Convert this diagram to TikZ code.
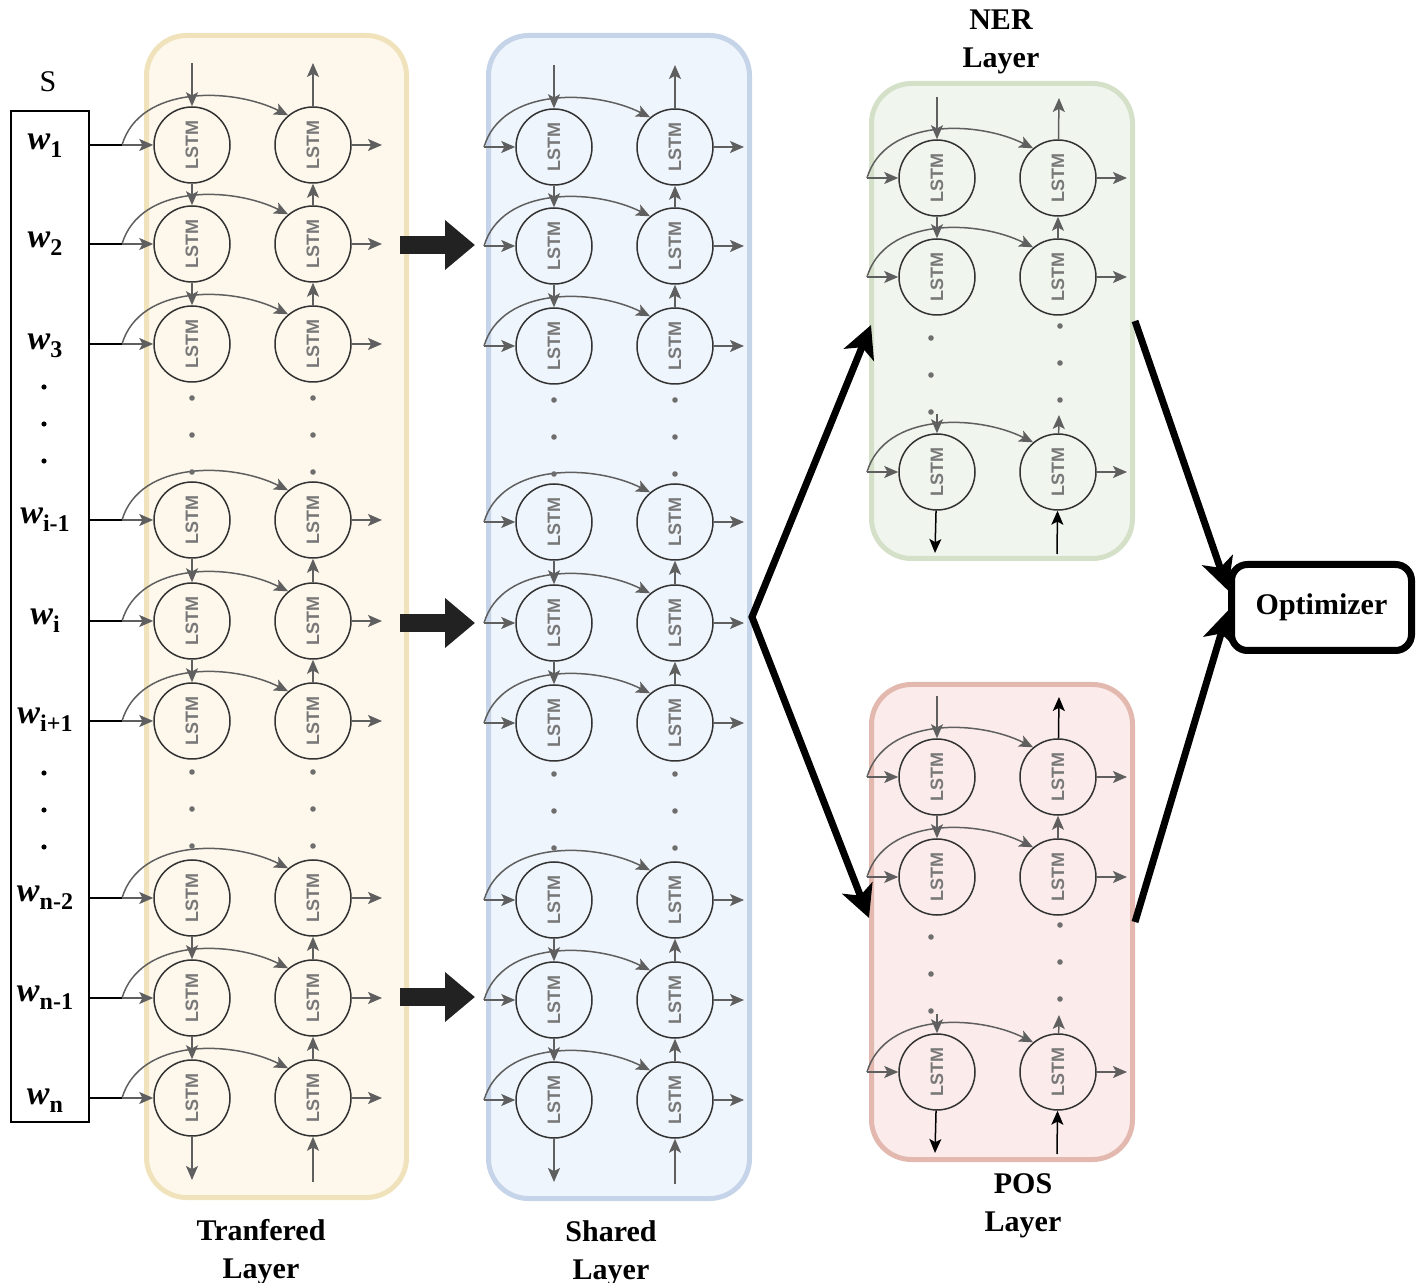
\documentclass[tikz,border=0pt]{standalone}
\usepackage{graphicx}
\usepackage{fontspec}
\setmainfont{Liberation Serif}
\newfontfamily\lstmfont{Liberation Sans}
\usetikzlibrary{arrows.meta}

\definecolor{tfill}{RGB}{254,248,236}
\definecolor{tline}{RGB}{240,226,186}
\definecolor{sfill}{RGB}{239,245,252}
\definecolor{sline}{RGB}{197,212,232}
\definecolor{nfill}{RGB}{240,245,238}
\definecolor{nline}{RGB}{212,225,200}
\definecolor{pfill}{RGB}{251,236,235}
\definecolor{pline}{RGB}{226,184,175}
\definecolor{arrgray}{RGB}{95,95,95}
\definecolor{lstmtext}{RGB}{120,120,120}
\definecolor{lstmline}{RGB}{51,51,51}
\definecolor{dotgray}{RGB}{110,110,110}
\definecolor{blockc}{RGB}{34,34,34}

\tikzset{
	lstm/.style={circle,draw=lstmline,line width=0.75pt,minimum size=38pt,inner sep=0pt,
		font=\lstmfont\bfseries\fontsize{9}{9}\selectfont,text=lstmtext},
	flow/.style={draw=arrgray,line width=0.75pt,-{Stealth[length=7pt,width=6pt,inset=1.6pt]}},
	blackflow/.style={draw=black,line width=0.75pt,-{Stealth[length=7pt,width=6pt,inset=1.6pt]}},
	layer/.style={rounded corners=20pt,line width=2.5pt,inner sep=0pt},
	block/.style={draw=blockc,line width=9pt,-{Triangle[length=15pt,width=24pt]}},
	big/.style={line width=3.5pt,{Stealth[length=16pt,width=16pt,inset=4pt]}-{Stealth[length=16pt,width=16pt,inset=4pt]}},
	bigone/.style={line width=3.5pt,-{Stealth[length=16pt,width=16pt,inset=4pt]}},
	optbox/.style={draw,line width=3.5pt,rounded corners=8pt,minimum width=90pt,minimum height=43pt,
		font=\bfseries\fontsize{15}{15}\selectfont},
	title/.style={font=\bfseries\fontsize{15}{19}\selectfont,align=center},
}

% one row of the bidirectional cell: prefix, x, y, index
\newcommand{\lstmrow}[4]{%
	\node[lstm] (#1a#4) at (#2,#3) {\rotatebox{90}{LSTM}};
	\node[lstm] (#1b#4) at (#2+121,#3) {\rotatebox{90}{LSTM}};
	\coordinate (#1i#4) at (#2-70,#3);
	\coordinate (#1o#4) at (#2+190,#3);
	\draw[flow] (#1i#4) -- (#1a#4);
	\draw[flow] (#1i#4) .. controls +(18,-60) and +(-56,-28) .. (#1b#4.130);
	\draw[flow] (#1b#4) -- (#1o#4);
}
\newcommand{\wsub}[1]{{\fontsize{17}{17}\selectfont\bfseries\itshape w}\raisebox{-4pt}{\fontsize{12}{12}\selectfont\bfseries #1}}

\begin{document}
\begin{tikzpicture}[x=0.5pt,y=-0.5pt]
	\useasboundingbox (0,0) rectangle (1421,1283);

	% layer backgrounds
	\node[layer,fill=tfill,draw=tline,minimum width=130pt,minimum height=581pt] (tbox) at (276.5,616.5) {};
	\node[layer,fill=sfill,draw=sline,minimum width=130.5pt,minimum height=581.5pt] (sbox) at (619,617) {};
	\node[layer,fill=nfill,draw=nline,minimum width=130.5pt,minimum height=237.5pt] (nbox) at (1002,321) {};
	\node[layer,fill=pfill,draw=pline,minimum width=130.5pt,minimum height=237.5pt] (pbox) at (1002,922) {};

	% sentence
	\node[draw,line width=0.75pt,minimum width=39pt,minimum height=505.5pt,inner sep=0pt] (sent) at (50,616.5) {};
	\node[font=\fontsize{15}{15}\selectfont] (slab) at (48,82) {S};
	\foreach \t/\y [count=\k] in {1/146,2/244,3/346,i-1/520,i/621,i+1/720,n-2/898,n-1/998,n/1101}
		\node (w\k) at (45,\y) {\wsub{\t}};
	\foreach \y in {387,424,461,773,810,847}
		\fill (44,\y) circle (1.3pt);

	% transfered and shared layers
	\foreach \p/\x/\d in {t/192/0,s/554/2}{
		\foreach \y [count=\k] in {145,244,344,520,621,721,898,998,1098}
			\lstmrow{\p}{\x}{\y+\d}{\k};
		\foreach \i/\j in {1/2,2/3,4/5,5/6,7/8,8/9}{
			\draw[flow] (\p a\i) -- (\p a\j);
			\draw[flow] (\p b\j) -- (\p b\i);
		}
		\foreach \y in {398,435,472,772,809,846}{
			\fill[dotgray] (\x,\y+\d) circle (1.4pt);
			\fill[dotgray] (\x+121,\y+\d) circle (1.4pt);
		}
		\coordinate (\p ta) at (\x,63+\d);
		\coordinate (\p tb) at (\x+121,63+\d);
		\coordinate (\p ba) at (\x,1180+\d);
		\coordinate (\p bb) at (\x+121,1182+\d);
		\draw[flow] (\p ta) -- (\p a1);
		\draw[flow] (\p b1) -- (\p tb);
		\draw[flow] (\p a9) -- (\p ba);
		\draw[flow] (\p bb) -- (\p b9);
	}
	\foreach \k in {1,...,9}
		\draw[line width=0.75pt] (sent.east |- ti\k) -- (ti\k);

	% NER and POS layers
	\foreach \p/\ya/\yb/\yc in {n/178/277/472,p/777/877/1072}{
		\lstmrow{\p}{937}{\ya}{1}
		\lstmrow{\p}{937}{\yb}{2}
		\lstmrow{\p}{937}{\yc}{3}
		\draw[flow] (\p a1) -- (\p a2);
		\draw[flow] (\p b2) -- (\p b1);
		\foreach \s in {160,197,234}
			\fill[dotgray] (931,\ya+\s) circle (1.4pt);
		\foreach \s in {148,185,222}
			\fill[dotgray] (1060,\ya+\s) circle (1.4pt);
		\coordinate (\p sa) at (937,\yc-58);
		\coordinate (\p sb) at (1059,\yc-57);
		\draw[flow] (\p sa) -- (\p a3);
		\draw[flow] (\p b3) -- (\p sb);
		\coordinate (\p ta) at (937,\ya-81);
		\coordinate (\p tb) at (1059,\ya-80);
		\coordinate (\p ba) at (935,\yc+81);
		\coordinate (\p bb) at (1057,\yc+82);
		\draw[flow] (\p ta) -- (\p a1);
		\draw[blackflow] (\p a3) -- (\p ba);
		\draw[blackflow] (\p bb) -- (\p b3);
	}
	\draw[flow] (nb1) -- (ntb);
	\draw[blackflow] (pb1) -- (ptb);

	% transfer arrows
	\foreach \y [count=\k] in {245,623,997}{
		\coordinate (bs\k) at (400,\y);
		\coordinate (be\k) at (475,\y);
		\draw[block] (bs\k) -- (be\k);
	}

	% multitask branches
	\coordinate (nin) at (871,325);
	\coordinate (pin) at (869,918);
	\draw[big] (nin) -- (sbox.east) -- (pin);
	\node[optbox] (opt) at (1321.5,607.5) {Optimizer};
	\draw[bigone] (nbox.east) -- ([yshift=8.5pt]opt.west);
	\draw[bigone] (pbox.east) -- ([yshift=-1.5pt]opt.west);

	% titles
	\node[title] (tlab) at (261,1252) {Tranfered\\Layer};
	\node[title] (slab2) at (611,1253) {Shared\\Layer};
	\node[title] (nlab) at (1001,42) {NER\\Layer};
	\node[title] (plab) at (1023,1206) {POS\\Layer};
\end{tikzpicture}
\end{document}
